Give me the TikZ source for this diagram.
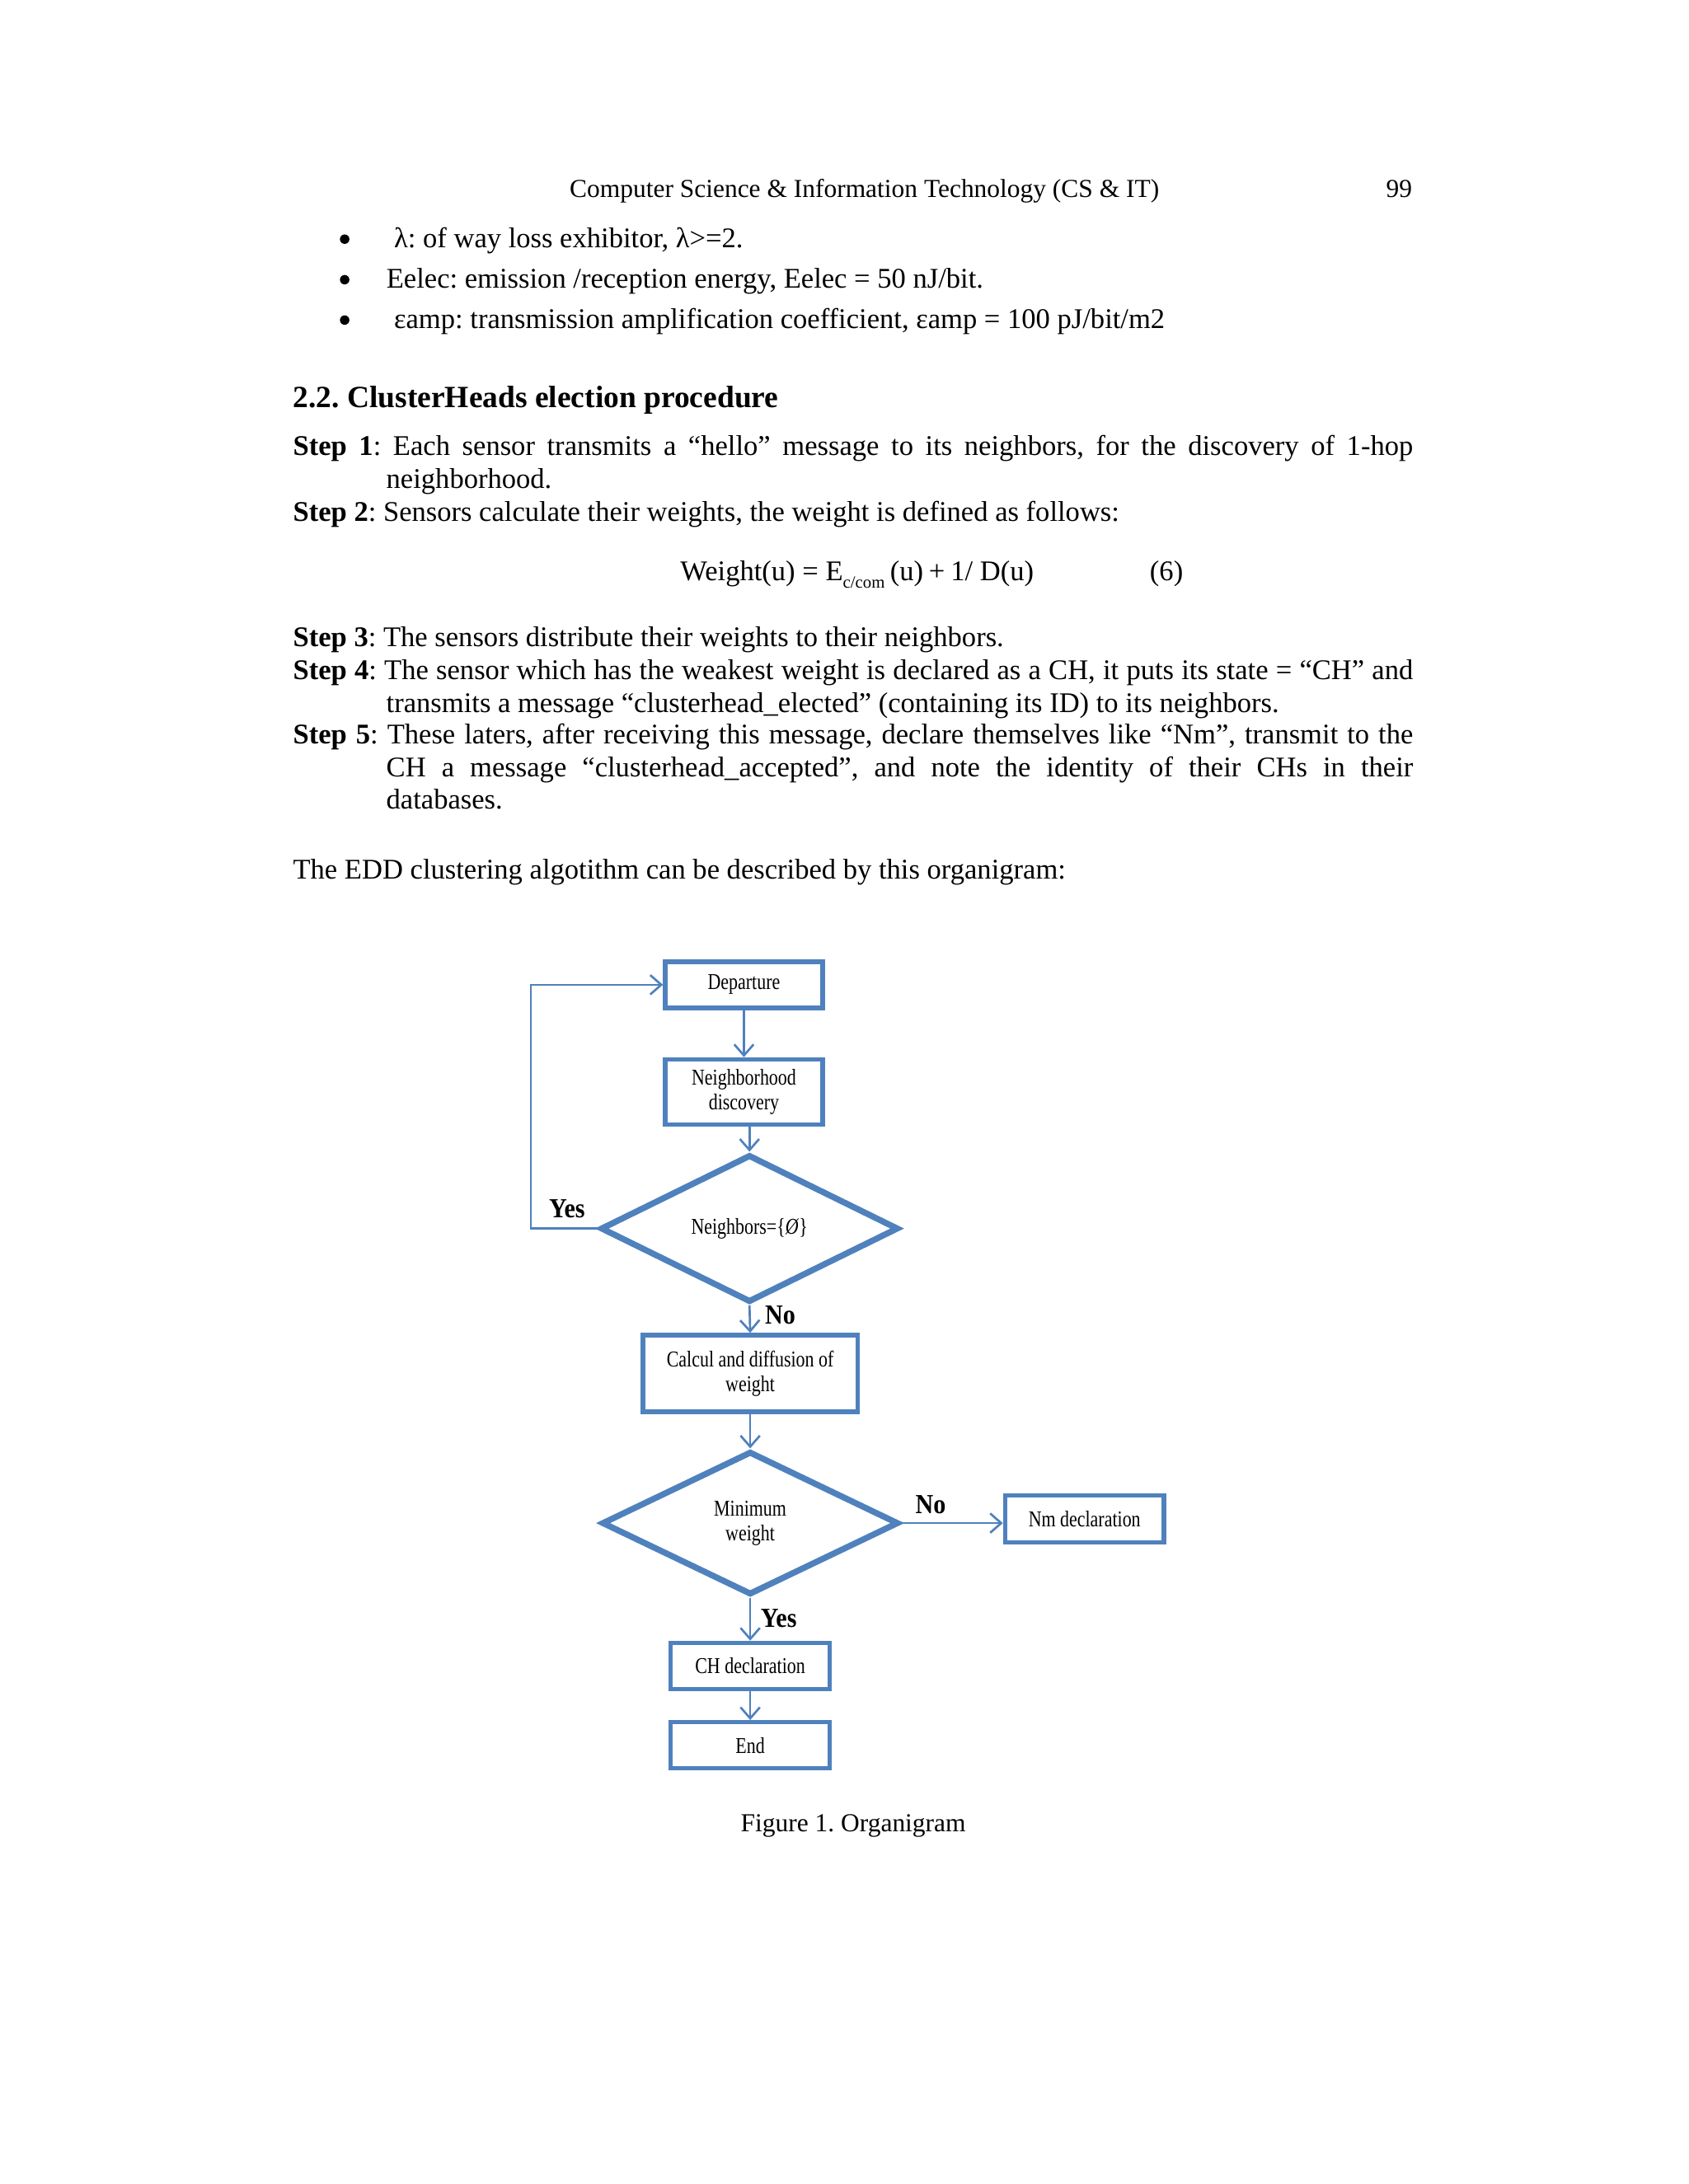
\documentclass[tikz,border=0pt]{standalone}
\usepackage{fontspec}
\setmainfont{Liberation Serif}
\newfontfamily\boxfont[FakeStretch=0.8]{Liberation Serif}
\newfontfamily\labfont[FakeStretch=0.9]{Liberation Serif}
\usetikzlibrary{arrows.meta,shapes.geometric}
\definecolor{fcblue}{HTML}{4F81BD}
\frenchspacing
\newcommand\stepsetup{\tolerance=10000\hyphenpenalty=10000\exhyphenpenalty=10000\hangindent=33.8pt\hangafter=1\relax}
\begin{document}
\begin{tikzpicture}[x=0.505pt,y=-0.505pt,
  body/.style={inner sep=0pt, anchor=base west, font=\fontsize{10.33}{11.82}\selectfont\frenchspacing},
  para/.style={body, text width=406pt, align=justify},
  fbox/.style={draw=fcblue, line width=1.6pt, inner sep=0pt, align=center,
    font=\boxfont\fontsize{8.2}{8.9}\selectfont},
  fdia/.style={diamond, draw=fcblue, line width=2.2pt, inner sep=0pt, aspect=2, align=center,
    font=\boxfont\fontsize{8.2}{8.9}\selectfont},
  arr/.style={draw=fcblue, line width=0.8pt, -{Straight Barb[length=4pt,width=7pt]}},
  yn/.style={inner sep=0pt, font=\labfont\bfseries\fontsize{10}{12}\selectfont}
]
\useasboundingbox (0,0) rectangle (1212,1568);
\fill[white] (0,0) rectangle (1212,1568);

% header
\node[body, anchor=base, font=\fontsize{9.4}{11}\selectfont] (hdr) at (620.5,141.5) {Computer Science \& Information Technology (CS \& IT)};
\node[body, anchor=base east, font=\fontsize{9.4}{11}\selectfont] (pg) at (1014,141.5) {99};

% bullets
\fill (247.4,171.7) circle (3.4);
\fill (247.4,200.8) circle (3.4);
\fill (247.4,229.8) circle (3.4);
\node[body] (b1) at (282.5,177.7) {λ: of way loss exhibitor, λ>=2.};
\node[body] (b2) at (277,206.8) {Eelec: emission /reception energy, Eelec = 50 nJ/bit.};
\node[body] (b3) at (282.5,235.8) {εamp: transmission amplification coefficient, εamp = 100 pJ/bit/m2};

% heading
\node[body, font=\bfseries\fontsize{11.2}{13}\selectfont\frenchspacing] (head) at (210,292.5) {2.2. ClusterHeads election procedure};

% steps
\node[para] (s1) at (210,327) {\stepsetup\textbf{Step 1}: Each sensor transmits a “hello” message to its neighbors, for the discovery of 1-hop\linebreak neighborhood.\par};
\node[para] (s2) at (210,374.5) {\stepsetup\textbf{Step 2}: Sensors calculate their weights, the weight is defined as follows:\par};
\node[body] (eq1) at (488,417) {Weight(u)};
\node[body] (eq2) at (575.6,417) {= E\raisebox{-0.25em}{\fontsize{6.2}{7}\selectfont c/com}};
\node[body] (eq3) at (638.5,417) {(u)\hspace{0.2em}+\hspace{0.2em}1/ D(u)};
\node[body] (eqn) at (825,417) {(6)};
\node[para] (s3) at (210,464) {\stepsetup\textbf{Step 3}: The sensors distribute their weights to their neighbors.\par};
\node[para] (s4) at (210,488) {\stepsetup\textbf{Step 4}: The sensor which has the weakest weight is declared as a CH, it puts its state = “CH” and\linebreak transmits a message “clusterhead\_elected” (containing its ID) to its neighbors.\par};
\node[para] (s5) at (210,534) {\stepsetup\textbf{Step 5}: These laters, after receiving this message, declare themselves like “Nm”, transmit to the\linebreak CH a message “clusterhead\_accepted”, and note the identity of their CHs in their\linebreak databases.\par};
\node[body] (edd) at (210,631) {The EDD clustering algotithm can be described by this organigram:};

% flowchart
\node[fbox, minimum width=57.1pt, minimum height=16.7pt] (dep) at (534,707) {Departure};
\node[fbox, minimum width=57.1pt, minimum height=23.7pt] (nd) at (534,784) {Neighborhood\\discovery};
\node[fdia, minimum width=108pt, minimum height=53.5pt] (d1) at (538,882) {Neighbors=\{\textit{Ø}\}};
\node[fbox, minimum width=77.8pt, minimum height=27.8pt] (calc) at (538.5,986) {Calcul and diffusion of\\weight};
\node[fdia, minimum width=107.6pt, minimum height=52pt] (d2) at (538.5,1093.5) {Minimum\\weight};
\node[fbox, minimum width=57.6pt, minimum height=17.2pt] (nm) at (778.5,1090.5) {Nm declaration};
\node[fbox, minimum width=57.6pt, minimum height=16.7pt] (ch) at (538.5,1196) {CH declaration};
\node[fbox, minimum width=57.6pt, minimum height=16.7pt] (end) at (538.5,1253) {End};
\coordinate (lx) at (381,882);

\draw[arr] (dep) -- (nd);
\draw[arr] (nd.south -| d1.north) -- (d1.north);
\draw[arr] (d1.west) -- (lx) |- (dep.west);
\draw[arr] (d1.south) -- (calc.north);
\draw[arr] (calc) -- (d2);
\draw[arr] (d2.east) -- (d2.east -| nm.west);
\draw[arr] (d2.south) -- (ch.north);
\draw[arr] (ch) -- (end);

\node[yn] (yes1) at (407,868) {Yes};
\node[yn] (no1) at (560,944) {No};
\node[yn] (no2) at (668,1080) {No};
\node[yn] (yes2) at (559,1162) {Yes};

% caption
\node[body, anchor=base, font=\fontsize{9.4}{11}\selectfont] (cap) at (612.5,1315) {Figure 1. Organigram};
\end{tikzpicture}
\end{document}
